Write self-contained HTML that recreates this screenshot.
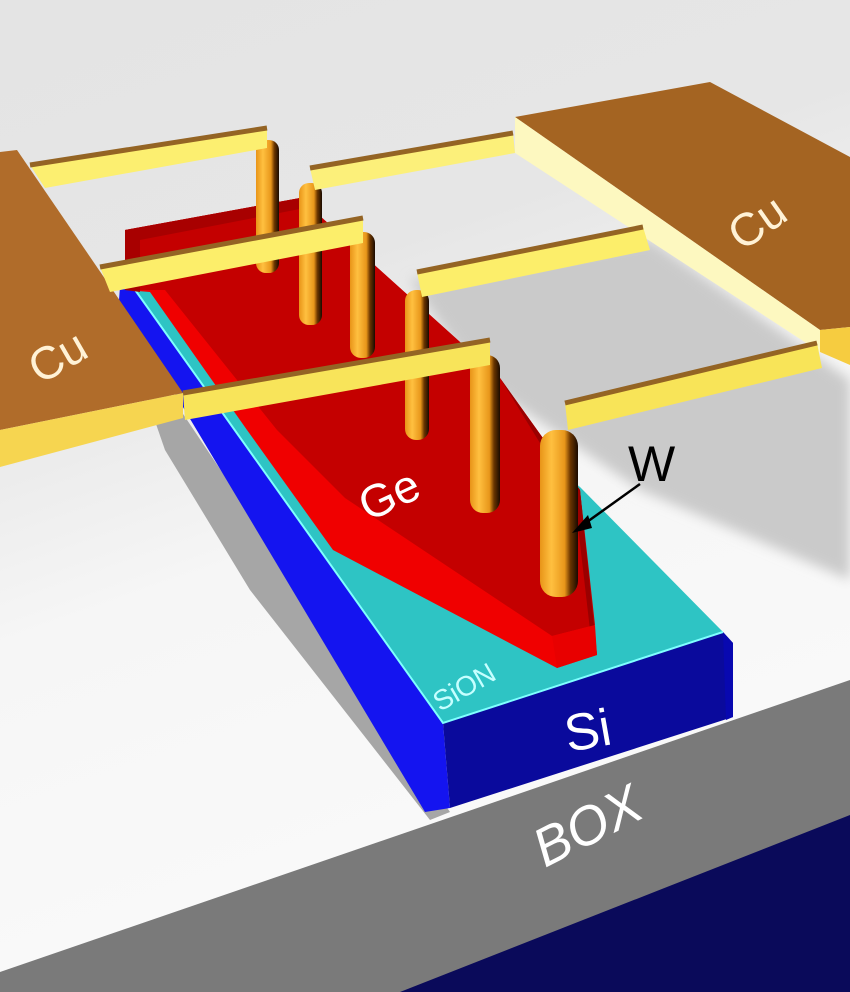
<!DOCTYPE html>
<html><head><meta charset="utf-8"><style>
html,body{margin:0;padding:0;width:850px;height:992px;overflow:hidden;background:#e6e6e6}
svg{display:block}
text{font-family:"Liberation Sans",sans-serif}
</style></head><body>
<svg width="850" height="992" viewBox="0 0 850 992" xmlns="http://www.w3.org/2000/svg">
<defs>
<linearGradient id="bg" x1="0" y1="0" x2="0.3" y2="1">
<stop offset="0" stop-color="#e4e4e4"/><stop offset="0.35" stop-color="#e6e6e6"/><stop offset="0.6" stop-color="#f6f6f6"/><stop offset="1" stop-color="#fafafa"/>
</linearGradient>
<linearGradient id="pil" x1="0" y1="0" x2="1" y2="0">
<stop offset="0" stop-color="#e89418"/><stop offset="0.3" stop-color="#ffc040"/><stop offset="0.65" stop-color="#e8961a"/><stop offset="0.8" stop-color="#6a3500"/><stop offset="1" stop-color="#1a0a00"/>
</linearGradient>
<filter id="bl"><feGaussianBlur stdDeviation="6"/></filter>
</defs>
<rect width="850" height="992" fill="url(#bg)"/>
<!-- light shadow right side -->
<polygon points="410,280 650,240 850,380 850,580 640,490 480,380" fill="#cacaca" filter="url(#bl)"/>
<!-- BOX -->
<polygon points="0,972 850,680 850,992 0,992" fill="#7a7a7a"/>
<polygon points="400,992 850,815 850,992" fill="#0a0a5a"/>
<!-- shadow left of block -->
<polygon points="120,320 450,812 430,820 250,590 165,450" fill="#a6a6a6"/>
<!-- Si side face -->
<polygon points="120,287 133,287 443,723 450,808 425,812 119,300" fill="#1414f0"/>
<!-- Si front face -->
<polygon points="443,723 723,632 733,643 733,717 450,808" fill="#0a0a9c"/>
<polygon points="723,632 733,643 733,717 726,720" fill="#0808b0"/>
<!-- SiON top -->
<polygon points="133,287 300,255 580,487 723,632 443,723" fill="#2ec4c4"/>
<polyline points="133,287 443,723 723,632" fill="none" stroke="#7fffff" stroke-width="2"/>
<!-- Ge -->
<polygon points="125,230 300,198 500,378 580,490 597,655 557,668 333,550 247,430 150,292 125,290" fill="#f00000"/>
<polygon points="125,230 300,198 500,378 580,490 595,625 552,636 345,498 277,430 165,290 125,290" fill="#c40000"/>
<polygon points="125,230 300,198 305,208 140,240 140,292 125,290" fill="#a80000"/>
<polygon points="500,378 580,490 597,655 590,630 575,500" fill="#9a0000"/>
<polygon points="552,636 595,625 597,655 557,668" fill="#e80000"/>
<!-- pillars -->
<g>
<rect x="256" y="140" width="23" height="133" rx="10" fill="url(#pil)"/>
<rect x="299" y="183" width="23" height="142" rx="10" fill="url(#pil)"/>
<rect x="350" y="232" width="25" height="126" rx="11" fill="url(#pil)"/>
<rect x="405" y="290" width="24" height="150" rx="11" fill="url(#pil)"/>
<rect x="470" y="355" width="30" height="158" rx="13" fill="url(#pil)"/>
<rect x="540" y="430" width="38" height="167" rx="16" fill="url(#pil)"/>
</g>
<!-- left pad -->
<polygon points="0,152 17,150 183,393 0,430" fill="#b06c2a"/>
<polygon points="0,430 183,393 183,418 0,467" fill="#f6d550"/>
<!-- right pad -->
<polygon points="515,117 710,82 850,157 850,327 820,330" fill="#a46422"/>
<polygon points="515,117 820,330 820,352 515,153" fill="#fdf8c0"/>
<polygon points="820,330 850,327 850,365 820,352" fill="#f6cc40"/>
<!-- bars -->
<g>
<polygon points="30,165 267,128 267,148 45,188" fill="#fcef70"/>
<polyline points="30,165 267,128" stroke="#946424" stroke-width="5"/>
<polygon points="100,267 363,218 363,243 110,292" fill="#fcee6a"/>
<polyline points="100,267 363,218" stroke="#946424" stroke-width="5"/>
<polygon points="183,393 490,340 490,365 185,420" fill="#f8e45a"/>
<polyline points="183,393 490,340" stroke="#946424" stroke-width="5"/>
<polygon points="310,168 513,133 515,153 315,190" fill="#fcf07a"/>
<polyline points="310,168 513,133" stroke="#946424" stroke-width="5"/>
<polygon points="417,272 643,227 650,250 422,297" fill="#fcee6a"/>
<polyline points="417,272 643,227" stroke="#946424" stroke-width="5"/>
<polygon points="565,403 817,343 822,368 568,430" fill="#f8e458"/>
<polyline points="565,403 817,343" stroke="#946424" stroke-width="5"/>
</g>
<!-- labels -->
<text x="0" y="0" font-size="46" fill="#fff2d6" transform="translate(40,385) rotate(-30)">Cu</text>
<text x="0" y="0" font-size="46" fill="#fff2d6" transform="translate(742,252) rotate(-35)">Cu</text>
<text x="0" y="0" font-size="46" fill="#fff" transform="translate(368,522) rotate(-25)">Ge</text>
<text x="628" y="481" font-size="50" fill="#000">W</text>
<line x1="640" y1="484" x2="580" y2="527" stroke="#000" stroke-width="2.5"/>
<polygon points="572,533 588,515 592,528" fill="#000"/>
<text x="0" y="0" font-size="28" fill="#c6ffff" transform="translate(440,712) rotate(-30)">SiON</text>
<text x="0" y="0" font-size="52" fill="#fff" transform="translate(568,752) rotate(-10)">Si</text>
<text x="0" y="0" font-size="54" font-style="italic" fill="#fff" transform="translate(545,868) rotate(-27)">BOX</text>
</svg>
</body></html>
